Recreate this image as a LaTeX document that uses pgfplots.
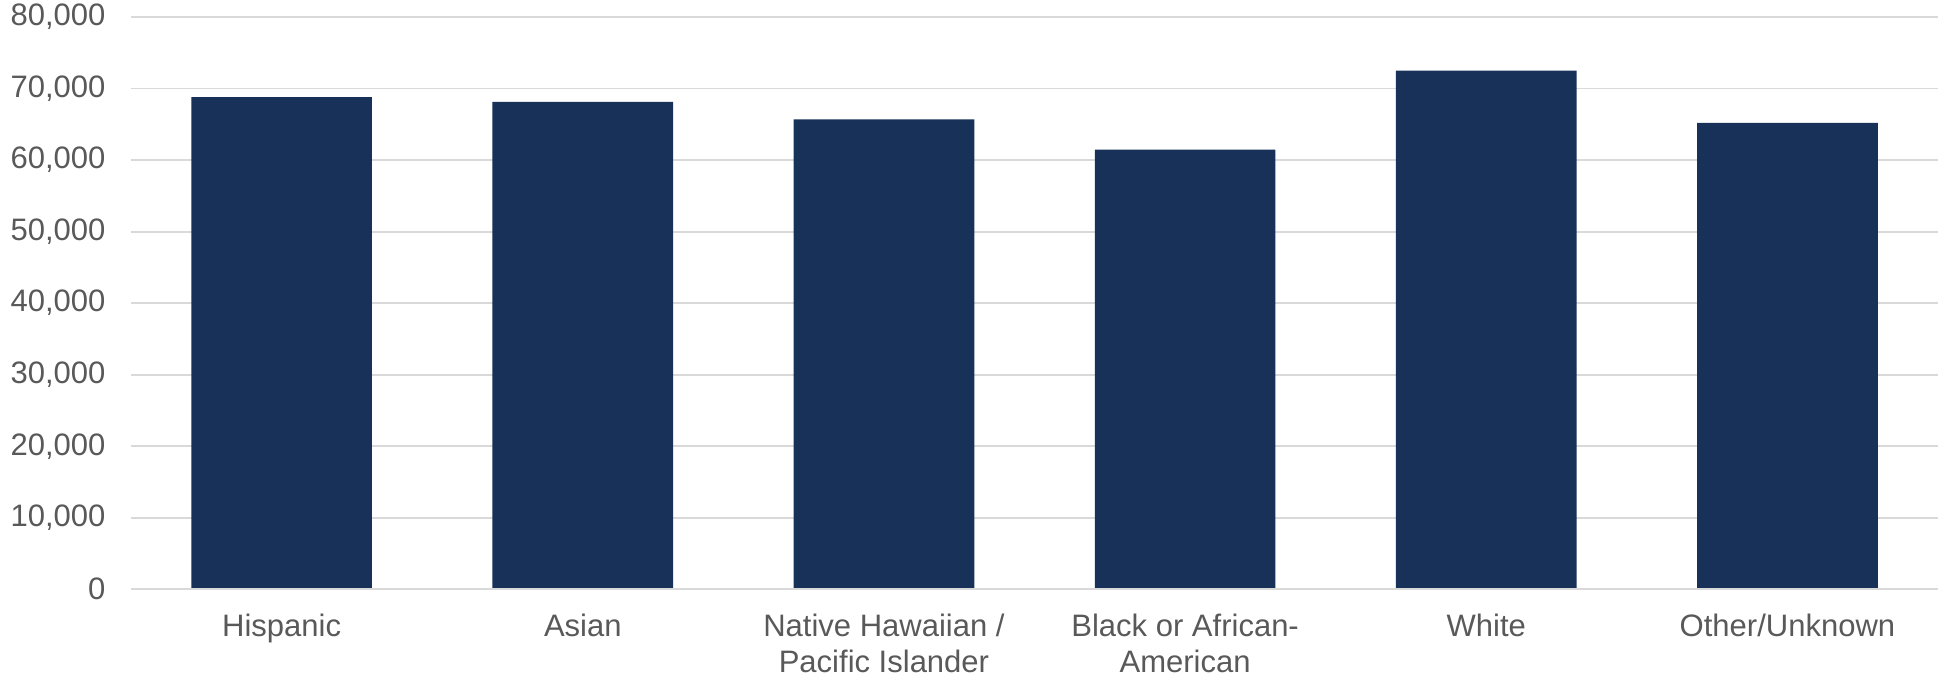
\documentclass[border=0pt]{standalone}
\usepackage{pgfplots}
\pgfplotsset{compat=1.18}
\usepackage{fontspec}
\setmainfont{Liberation Sans}
\definecolor{barblue}{RGB}{24,49,89}
\definecolor{txtgray}{RGB}{89,89,89}
\definecolor{gridgray}{RGB}{217,217,217}
\begin{document}
\begin{tikzpicture}
\useasboundingbox (-65.5pt,-45pt) rectangle (903.5pt,294.5pt);
\begin{axis}[
  at={(0pt,0pt)}, anchor=south west,
  scale only axis,
  width=903pt, height=286pt,
  xmin=-0.5, xmax=5.5,
  ymin=0, ymax=80000,
  ytick={0,10000,...,80000},
  scaled y ticks=false,
  /pgf/number format/.cd, fixed, 1000 sep={,}, assume math mode=true,
  /pgfplots/.cd,
  xtick={0,1,2,3,4,5},
  xticklabels={Hispanic, Asian, {Native Hawaiian /\\Pacific Islander}, {Black or African-\\American}, White, Other/Unknown},
  axis line style={draw=none},
  axis x line*=bottom,
  major tick length=0pt,
  ymajorgrids,
  grid style={gridgray, line width=0.9pt},
  tick label style={font=\fontsize{15.5}{18}\selectfont, text=txtgray},
  xticklabel style={align=center, yshift=-8.7pt},
  yticklabel style={xshift=-9.3pt},
  clip=false,
]
\addplot[ybar, bar width=0.6, fill=barblue, draw=none] coordinates {
  (0,68800) (1,68150) (2,65700) (3,61450) (4,72500) (5,65200)
};
\draw[gridgray, line width=0.9pt] (axis cs:-0.5,0) -- (axis cs:5.5,0);
\end{axis}
\end{tikzpicture}
\end{document}
